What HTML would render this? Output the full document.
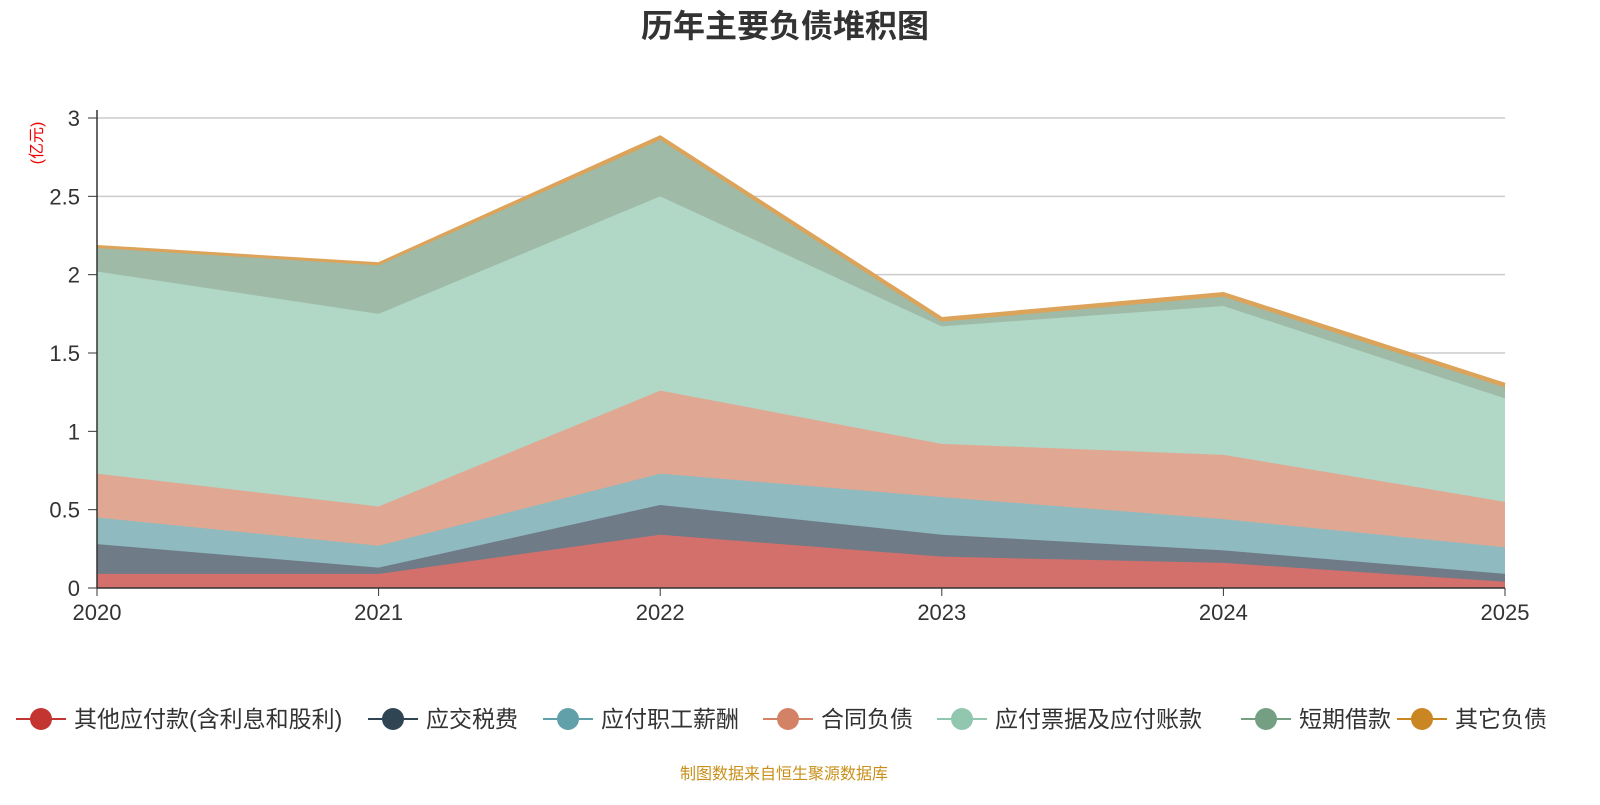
<!DOCTYPE html>
<html><head><meta charset="utf-8"><style>
body{margin:0;background:#fff;width:1600px;height:800px;overflow:hidden;font-family:"Liberation Sans","Noto Sans CJK SC",sans-serif;}
</style></head><body>
<svg id="chart" width="1600" height="800" xmlns="http://www.w3.org/2000/svg" font-family="Liberation Sans, Noto Sans CJK SC, sans-serif">
<text x="785" y="37" text-anchor="middle" font-size="32" font-weight="bold" fill="#333">历年主要负债堆积图</text>
<text transform="translate(42,143) rotate(-90)" text-anchor="middle" font-size="16" fill="#e00">(亿元)</text>
<g id="grid"></g><g id="areas"></g><g id="axes"></g><g id="legend"></g>
<text x="784" y="779" text-anchor="middle" font-size="16" fill="#c8901a">制图数据来自恒生聚源数据库</text>
</svg>
<script>
const years=["2020","2021","2022","2023","2024","2025"];
const seriesNames=["其他应付款(含利息和股利)","应交税费","应付职工薪酬","合同负债","应付票据及应付账款","短期借款","其它负债"];
const s0=[0.09,0.09,0.34,0.20,0.16,0.04];
const s1=[0.19,0.04,0.19,0.14,0.08,0.05];
const s2=[0.17,0.14,0.20,0.24,0.20,0.17];
const s3=[0.28,0.25,0.53,0.34,0.41,0.29];
const s4=[1.29,1.23,1.24,0.75,0.95,0.66];
const s5=[0.15,0.31,0.36,0.03,0.06,0.07];
const s6=[0.01,0.01,0.02,0.02,0.02,0.02];
const yTicks=[0,0.5,1,1.5,2,2.5,3];
const series=[s0,s1,s2,s3,s4,s5,s6];
const fills=["#d4706c","#6f7b87","#8fbac0","#e0a892","#b1d7c6","#9fbaa6","#dca35a"];
const lineCols=["#c23531","#2f4554","#61a0a8","#d48265","#91c7ae","#749f83","#ca8622"];
const NS="http://www.w3.org/2000/svg";
const X=i=>97+i*(1505-97)/(years.length-1);
const Y=v=>588-v*(588-118)/3;
function mk(t,a,p){const e=document.createElementNS(NS,t);for(const k in a)e.setAttribute(k,a[k]);p.appendChild(e);return e;}
const grid=document.getElementById('grid'),axes=document.getElementById('axes'),areas=document.getElementById('areas'),leg=document.getElementById('legend');
yTicks.forEach(t=>{
 if(t>0){const l=mk('line',{x1:97,x2:1505,y1:Y(t),y2:Y(t),stroke:'#ccc','stroke-width':1.5},grid);
 
 }
 const tx=mk('text',{x:80,y:Y(t)+8,'text-anchor':'end','font-size':22,fill:'#333'},axes);tx.textContent=String(t);
 
 
 mk('line',{x1:88,x2:97,y1:Y(t),y2:Y(t),stroke:'#333'},axes);
});
mk('line',{x1:97,x2:97,y1:110,y2:588,stroke:'#333','stroke-width':1.5},axes);
mk('line',{x1:97,x2:1505,y1:588,y2:588,stroke:'#333','stroke-width':1.5},axes);
years.forEach((y,i)=>{
 mk('line',{x1:X(i),x2:X(i),y1:588,y2:596,stroke:'#333'},axes);
 const tx=mk('text',{x:X(i),y:620,'text-anchor':'middle','font-size':22,fill:'#333'},axes);tx.textContent=y;
 
 
});
let base=years.map(()=>0);
series.forEach((s,k)=>{
 const top=s.map((v,i)=>base[i]+v);
 let d='M'+top.map((v,i)=>X(i)+','+Y(v)).join('L');
 for(let i=years.length-1;i>=0;i--)d+='L'+X(i)+','+Y(base[i]);
 const p=mk('path',{d:d+'Z',fill:fills[k]},areas);
 
 
 const ln=mk('polyline',{points:top.map((v,i)=>X(i)+','+Y(v)).join(' '),fill:'none',stroke:k==6?'#dca35a':fills[k],'stroke-width':k==6?3:1.5},areas);
 
 
 base=top;
});
const lx=[16,368,543,763,937,1241,1397];
seriesNames.forEach((n,k)=>{
 const g=mk('g',{},leg);
 
 
 mk('line',{x1:lx[k],x2:lx[k]+50,y1:719,y2:719,stroke:lineCols[k],'stroke-width':2},g);
 mk('circle',{cx:lx[k]+25,cy:719,r:11,fill:lineCols[k]},g);
 const t=mk('text',{x:lx[k]+58,y:727,'font-size':23,fill:'#333'},g);t.textContent=n;
});
</script>
</body></html>
